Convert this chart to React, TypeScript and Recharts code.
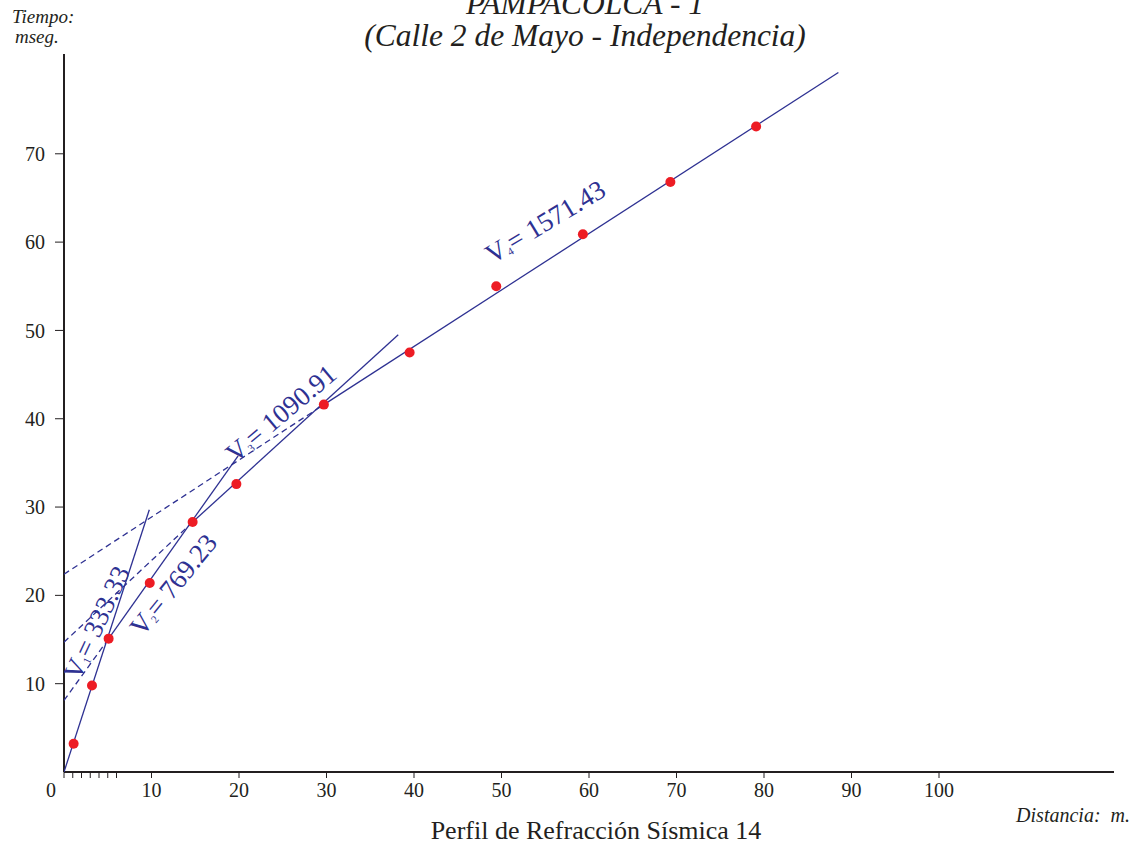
import React from 'react';
import { ComposedChart, Scatter, XAxis, YAxis } from 'recharts';

// Measured first-arrival times (ms) at each geophone distance (m)
const distances = [1.1, 3.2, 5.1, 9.8, 14.7, 19.7, 29.7, 39.5, 49.4, 59.3, 69.3, 79.1];
const times = [3.2, 9.8, 15.1, 21.4, 28.3, 32.6, 41.6, 47.5, 55.0, 60.9, 66.8, 73.1];

// Fitted velocity segments (solid) and their extrapolations to x = 0 (dashed)
const v1Line = [{ x: 0, y: 0 }, { x: 9.75, y: 29.7 }];
const v2Line = [{ x: 5.1, y: 15.1 }, { x: 19.9, y: 35.8 }];
const v3Line = [{ x: 14.7, y: 28.3 }, { x: 38.2, y: 49.5 }];
const v4Line = [{ x: 29.7, y: 41.6 }, { x: 88.5, y: 79.2 }];
const v2Dashed = [{ x: 0, y: 8.1 }, { x: 5.1, y: 15.1 }];
const v3Dashed = [{ x: 0, y: 14.7 }, { x: 14.7, y: 28.3 }];
const v4Dashed = [{ x: 0, y: 22.4 }, { x: 29.7, y: 41.6 }];

// Velocity annotations
const velocityLabels = [
  { x: 3.74, y: 16.9, angle: -65, sub: '1', value: '333.33' },
  { x: 12.5, y: 21.2, angle: -51, sub: '2', value: '769.23' },
  { x: 24.8, y: 40.6, angle: -40, sub: '3', value: '1090.91' },
  { x: 55.0, y: 62.3, angle: -31, sub: '4', value: '1571.43' },
];

const xTicks = [0, 1, 2, 3, 4, 5, 6, 10, 20, 30, 40, 50, 60, 70, 80, 90, 100];
const yTicks = [10, 20, 30, 40, 50, 60, 70];

const points = distances.map((x, i) => ({ x, y: times[i] }));

const SERIF = '"Liberation Serif", "DejaVu Serif", serif';
const NAVY = '#2e3192';
const RED = '#ed1c24';
const INK = '#231f20';

const XTick = (props: any) => {
  const { x, y, payload } = props;
  const v = payload.value;
  if (v % 10 !== 0) return <g />;
  return (
    <text x={v === 0 ? x - 13 : x} y={y} dy={17} textAnchor="middle" fontSize={20} fontFamily={SERIF} fill={INK}>
      {v}
    </text>
  );
};

const Empty = () => <g />;

const VelLabel = (props: any) => {
  const { cx, cy, payload } = props;
  return (
    <text
      x={cx}
      y={cy}
      transform={`rotate(${payload.angle} ${cx} ${cy})`}
      textAnchor="middle"
      dominantBaseline="central"
      fontSize={27}
      fontFamily={SERIF}
      fill={NAVY}
    >
      V<tspan fontSize={11} dy={7}>{payload.sub}</tspan>
      <tspan dy={-7}>= {payload.value}</tspan>
    </text>
  );
};

const Dot = (props: any) => {
  const { cx, cy } = props;
  return <circle cx={cx} cy={cy} r={5} fill={RED} />;
};

export default function App() {
  const solid = { stroke: NAVY, strokeWidth: 1.3 };
  const dashed = { stroke: NAVY, strokeWidth: 1.3, strokeDasharray: '6 4' };
  return (
    <div style={{ position: 'absolute', left: 0, top: 0, width: 1134, height: 845, background: '#fff' }}>
      <ComposedChart width={1134} height={845} margin={{ top: 54, right: 20, bottom: 43, left: 0 }}>
        <XAxis
          type="number"
          dataKey="x"
          domain={[0, 120]}
          ticks={xTicks}
          interval={0}
          height={30}
          tickSize={6}
          tickMargin={2}
          tick={<XTick />}
          tickLine={{ stroke: INK, strokeWidth: 1 }}
          axisLine={{ stroke: INK, strokeWidth: 2 }}
          allowDataOverflow
        />
        <YAxis
          type="number"
          dataKey="y"
          domain={[0, 81.3]}
          ticks={yTicks}
          interval={0}
          width={64}
          tickSize={9}
          tickMargin={10}
          tick={{ fontSize: 20, fontFamily: SERIF, fill: INK }}
          tickLine={{ stroke: INK, strokeWidth: 1 }}
          axisLine={{ stroke: INK, strokeWidth: 2 }}
          allowDataOverflow
        />
        <Scatter data={v2Dashed} line={dashed} shape={<Empty />} isAnimationActive={false} />
        <Scatter data={v3Dashed} line={dashed} shape={<Empty />} isAnimationActive={false} />
        <Scatter data={v4Dashed} line={dashed} shape={<Empty />} isAnimationActive={false} />
        <Scatter data={v1Line} line={solid} shape={<Empty />} isAnimationActive={false} />
        <Scatter data={v2Line} line={solid} shape={<Empty />} isAnimationActive={false} />
        <Scatter data={v3Line} line={solid} shape={<Empty />} isAnimationActive={false} />
        <Scatter data={v4Line} line={solid} shape={<Empty />} isAnimationActive={false} />
        <Scatter data={points} shape={<Dot />} isAnimationActive={false} />
        <Scatter data={velocityLabels} shape={<VelLabel />} isAnimationActive={false} />
      </ComposedChart>
      <svg
        width={1134}
        height={845}
        style={{ position: 'absolute', left: 0, top: 0, pointerEvents: 'none' }}
      >
        <text x={585} y={14} textAnchor="middle" fontSize={31.5} fontStyle="italic" fontFamily={SERIF} fill={INK}>
          PAMPACOLCA - 1
        </text>
        <text x={585} y={46} textAnchor="middle" fontSize={31.5} fontStyle="italic" fontFamily={SERIF} fill={INK}>
          (Calle 2 de Mayo - Independencia)
        </text>
        <text x={12} y={23} fontSize={19} fontStyle="italic" fontFamily={SERIF} fill={INK}>
          Tiempo:
        </text>
        <text x={15} y={43} fontSize={19} fontStyle="italic" fontFamily={SERIF} fill={INK}>
          mseg.
        </text>
        <text x={1130} y={822} textAnchor="end" fontSize={20} fontStyle="italic" fontFamily={SERIF} fill={INK} xmlSpace="preserve">
          Distancia:  m.
        </text>
        <text x={596} y={839} textAnchor="middle" fontSize={26} fontFamily={SERIF} fill={INK}>
          Perfil de Refracción Sísmica 14
        </text>
      </svg>
    </div>
  );
}
